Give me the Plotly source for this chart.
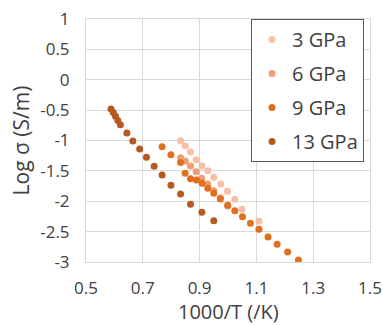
import plotly.graph_objects as go

# 1000/T (/K) and Log sigma (S/m) for each pressure
x_3 = [0.833, 0.850, 0.868, 0.888, 0.908, 0.929, 0.950, 0.975, 0.998, 1.024, 1.049, 1.109]
y_3 = [-1.003, -1.091, -1.189, -1.316, -1.420, -1.497, -1.606, -1.716, -1.836, -1.968, -2.133, -2.330]

x_6 = [0.833, 0.850, 0.868, 0.888, 0.907, 0.929, 0.950, 0.973, 0.999]
y_6 = [-1.283, -1.337, -1.420, -1.514, -1.622, -1.716, -1.826, -1.942, -2.078]

x_9 = [0.768, 0.799, 0.833, 0.849, 0.868, 0.889, 0.909, 0.929, 0.950, 0.973, 0.999,
       1.024, 1.051, 1.079, 1.109, 1.141, 1.173, 1.210, 1.248]
y_9 = [-1.102, -1.234, -1.362, -1.540, -1.629, -1.650, -1.705, -1.787, -1.869, -1.963, -2.067,
       -2.156, -2.254, -2.363, -2.462, -2.588, -2.709, -2.835, -2.967]

x_13 = [0.588, 0.596, 0.604, 0.612, 0.621, 0.644, 0.665, 0.689, 0.713, 0.740, 0.768,
        0.799, 0.833, 0.868, 0.908, 0.950]
y_13 = [-0.48, -0.54, -0.60, -0.67, -0.74, -0.877, -1.008, -1.140, -1.277, -1.425, -1.568,
        -1.737, -1.881, -2.050, -2.182, -2.320]

series_names = ["3 GPa", "6 GPa", "9 GPa", "13 GPa"]
series_colors = ["#F7BFA6", "#F09C74", "#E0701F", "#B65A22"]

x_ticks = [0.5, 0.7, 0.9, 1.1, 1.3, 1.5]
y_ticks = [1, 0.5, 0, -0.5, -1, -1.5, -2, -2.5, -3]

x_title = "1000/T (/K)"
y_title = "Log σ (S/m)"

FONT = "Open Sans"
TXT = "#404040"
GRID = "#D9D9D9"

fig = go.Figure()
for name, xs, ys, col in zip(series_names, [x_3, x_6, x_9, x_13], [y_3, y_6, y_9, y_13], series_colors):
    fig.add_trace(go.Scatter(
        x=xs, y=ys, mode="markers", name=name, legendgroup=name,
        marker=dict(color=col, size=7, line=dict(width=0)),
    ))

fig.update_layout(
    width=383, height=325,
    margin=dict(l=86, r=13, t=19, b=63),
    paper_bgcolor="white", plot_bgcolor="white",
    font=dict(family=FONT, color=TXT),
    showlegend=True,
    legend=dict(
        x=0.581, y=1, xanchor="left", yanchor="top",
        bgcolor="white", bordercolor="#595959", borderwidth=1,
        font=dict(family=FONT, size=20, color=TXT),
        tracegroupgap=5, itemsizing="trace",
    ),
    xaxis=dict(
        range=[0.5, 1.5], tickvals=x_ticks, ticktext=[str(v) for v in x_ticks],
        showgrid=True, gridcolor=GRID, gridwidth=1, zeroline=False,
        showline=True, linecolor=GRID, linewidth=1, mirror=True, automargin=False,
        tickfont=dict(family=FONT, size=17, color=TXT), ticklabelstandoff=11,
        ticklabeloverflow="allow",
    ),
    yaxis=dict(
        range=[-3, 1], tickvals=y_ticks, ticktext=[str(v) for v in y_ticks],
        showgrid=True, gridcolor=GRID, gridwidth=1, zeroline=False,
        showline=True, linecolor=GRID, linewidth=1, mirror=True, automargin=False,
        tickfont=dict(family=FONT, size=17, color=TXT), ticklabelstandoff=12,
        ticklabeloverflow="allow",
    ),
    annotations=[
        dict(text=x_title, xref="paper", yref="paper", x=0.5, y=-0.204,
             xanchor="center", yanchor="middle", showarrow=False,
             font=dict(family=FONT, size=20, color=TXT)),
        dict(text=y_title, xref="paper", yref="paper", x=-0.229, y=0.5,
             xanchor="center", yanchor="middle", showarrow=False, textangle=-90,
             font=dict(family=FONT, size=21, color=TXT)),
    ],
)

# remove the browser's default 8px page margin so the figure sits at the window origin
fig.write_html("out.html", config={"displayModeBar": False},
               post_script="document.body.style.margin='0';")
